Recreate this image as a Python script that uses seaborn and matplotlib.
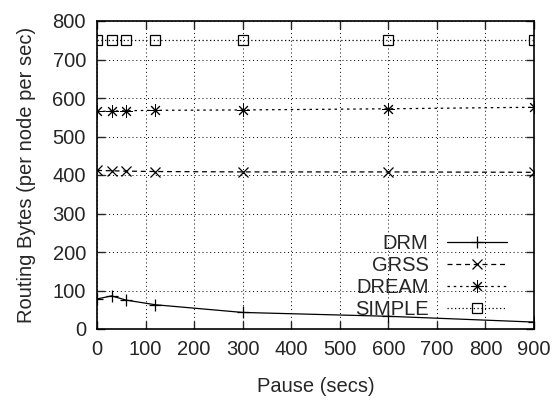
import matplotlib
matplotlib.use("Agg")
import matplotlib.pyplot as plt
import seaborn as sns
import pandas as pd

pause = [0, 30, 60, 120, 300, 600, 900]
drm = [78, 86, 75, 63, 43, 33, 18]
grss = [412, 411, 410, 409, 408, 408, 407]
dream = [565, 566, 567, 568, 569, 572, 576]
simple = [750, 750, 750, 750, 750, 750, 750]

series = ["DRM", "GRSS", "DREAM", "SIMPLE"]
values = [drm, grss, dream, simple]
markers = ["+", "x", (8, 2, 0), "s"]
msizes = [9, 7, 9, 7]
mwidths = [0.9, 0.9, 0.7, 0.9]
styles = ["-", (0, (4, 3)), (0, (2, 3)), (0, (1, 2))]

sns.set_style("ticks")
plt.rcParams['font.family'] = ['Liberation Sans', 'DejaVu Sans']

fig = plt.figure(figsize=(5.55, 4.0), dpi=100)
ax = fig.add_axes([0.1748, 0.1775, 0.7874, 0.77])

for name, vals, mk, ms, mw, ls in zip(series, values, markers, msizes, mwidths, styles):
    df = pd.DataFrame({"Pause": pause, "Bytes": vals})
    sns.lineplot(data=df, x="Pause", y="Bytes", ax=ax, color="black",
                 linewidth=0.9, linestyle=ls, marker=mk, markersize=ms,
                 markerfacecolor="none", markeredgecolor="black",
                 markeredgewidth=mw, label=name)

ax.set_xlim(0, 900)
ax.set_ylim(0, 800)
ax.set_xticks(range(0, 901, 100))
ax.set_yticks(range(0, 801, 100))
ax.grid(True, color="black", linestyle=(0, (1, 3)), linewidth=0.7)
ax.tick_params(direction="in", length=6, labelsize=14.5, right=True, top=True,
               width=1, pad=8)
for s in ax.spines.values():
    s.set_linewidth(1.2)
    s.set_color("black")
ax.set_xlabel("Pause (secs)", fontsize=14.5, labelpad=13)
ax.set_ylabel("Routing Bytes (per node per sec)", fontsize=14.5, labelpad=12)

leg = ax.legend(loc="lower right", bbox_to_anchor=(0.938, 0.033), frameon=False,
                fontsize=14.5, markerfirst=False, handlelength=3.0,
                handletextpad=0.9, labelspacing=0.15, borderaxespad=0,
                borderpad=0)
for t in leg.get_texts():
    t.set_ha("right")

fig.savefig("out.png", dpi=100)
